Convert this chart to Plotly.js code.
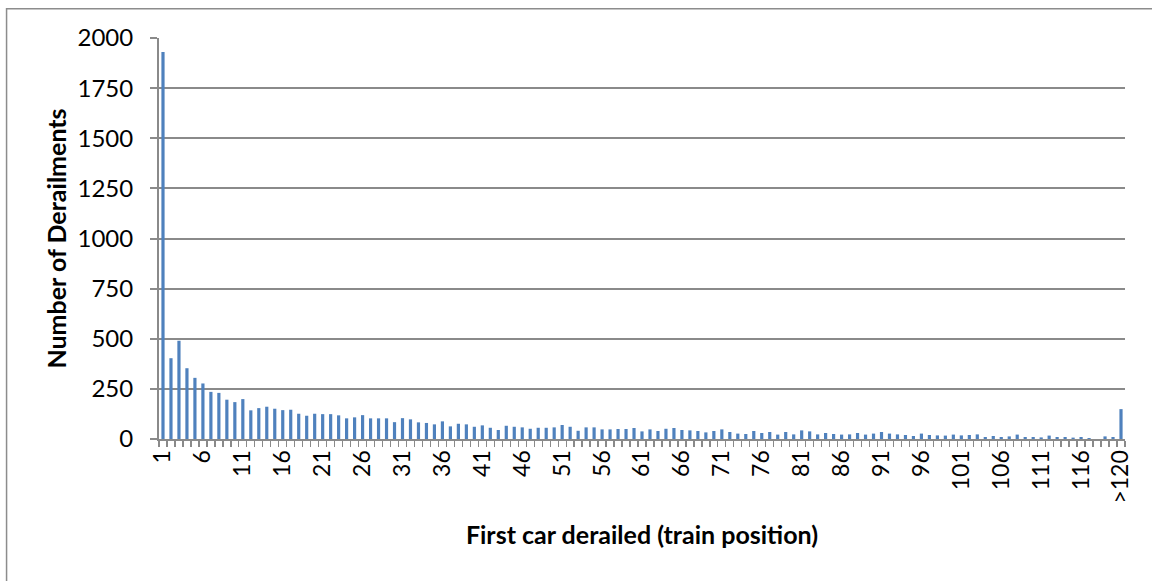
<!DOCTYPE html>
<html>
<head>
<meta charset="utf-8">
<script src="https://cdn.plot.ly/plotly-3.0.1.min.js"></script>
<style>
  html, body { margin: 0; padding: 0; background: #ffffff; }
  #chart { width: 1152px; height: 581px; }
</style>
</head>
<body>
<div id="chart"></div>
<script>
// Category labels: train positions 1..120 and ">120"
const positions = [];
for (let i = 1; i <= 120; i++) positions.push(String(i));
positions.push(">120");

// Number of derailments per first-derailed car position
const derailments = [
  1930, 403, 490, 353, 305, 277, 235, 230, 196, 184,
  199, 143, 154, 161, 151, 144, 146, 126, 116, 126,
  124, 124, 118, 103, 108, 119, 103, 103, 103, 84,
  104, 98, 83, 80, 73, 88, 63, 76, 73, 61,
  68, 56, 45, 66, 61, 58, 51, 56, 56, 58,
  70, 61, 41, 58, 58, 48, 48, 50, 50, 55,
  38, 48, 40, 51, 55, 45, 43, 40, 33, 40,
  48, 35, 27, 25, 40, 30, 35, 22, 35, 23,
  43, 38, 23, 30, 25, 22, 23, 30, 22, 27,
  35, 27, 23, 20, 15, 27, 20, 18, 17, 22,
  18, 20, 23, 10, 15, 10, 13, 22, 10, 10,
  8, 17, 10, 10, 7, 10, 5, 0, 13, 10,
  149
];

const xTitle = "First car derailed (train position)";
const yTitle = "Number of Derailments";

const gray = "#8a8a8a";
const fontFamily = "Lato, 'Open Sans', sans-serif";

const trace = {
  type: "bar",
  x: positions,
  y: derailments,
  marker: { color: "#4f81bd" },
  hoverinfo: "x+y"
};

const layout = {
  width: 1152,
  height: 581,
  paper_bgcolor: "#ffffff",
  plot_bgcolor: "#ffffff",
  margin: { l: 159, r: 27, t: 38, b: 142 },
  bargap: 0.6,
  showlegend: false,
  font: { family: fontFamily, color: "#000000", size: 24 },
  xaxis: {
    type: "category",
    tickmode: "linear",
    tick0: 0,
    dtick: 1,
    ticklabelstep: 5,
    tickson: "boundaries",
    ticks: "outside",
    ticklen: 6,
    tickwidth: 1.3,
    tickcolor: gray,
    tickangle: -90,
    showline: true,
    linecolor: gray,
    linewidth: 2,
    showgrid: false,
    zeroline: false,
    tickfont: { family: fontFamily, size: 23, color: "#000000" },
    title: { text: xTitle, font: { family: fontFamily, size: 25, color: "#000000", weight: "bold" }, standoff: 24 }
  },
  yaxis: {
    range: [0, 2000],
    tickmode: "linear",
    tick0: 0,
    dtick: 250,
    ticks: "outside",
    ticklen: 7,
    tickwidth: 2,
    tickcolor: gray,
    showline: true,
    linecolor: gray,
    linewidth: 2,
    showgrid: true,
    gridcolor: gray,
    gridwidth: 2,
    zeroline: false,
    ticklabelstandoff: 12,
    tickfont: { family: fontFamily, size: 24, color: "#000000" },
    title: { text: yTitle, font: { family: fontFamily, size: 25, color: "#000000", weight: "bold" }, standoff: 4 }
  },
  shapes: [{
    type: "rect",
    xref: "paper", yref: "paper",
    x0: -0.1578, x1: 1.3,
    y0: -0.6, y1: 1.0731,
    line: { color: "#8c8c8c", width: 1.5 },
    fillcolor: "rgba(0,0,0,0)",
    layer: "below"
  }]
};

Plotly.newPlot("chart", [trace], layout, { displayModeBar: false, staticPlot: true });
</script>
</body>
</html>
